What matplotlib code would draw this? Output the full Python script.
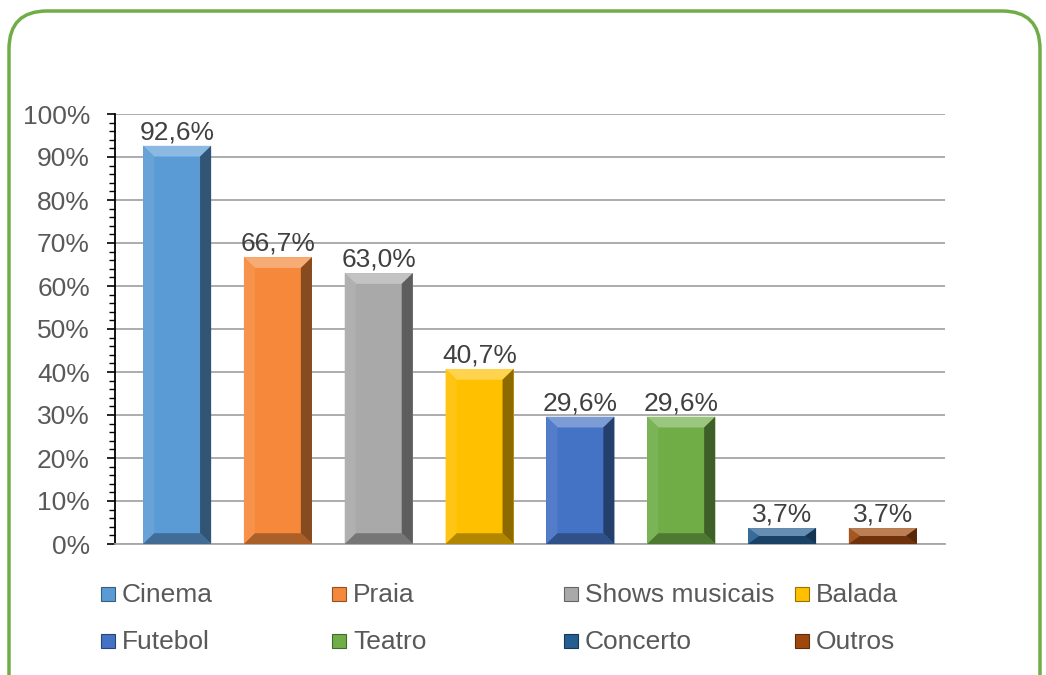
import numpy as np
import matplotlib
matplotlib.use('Agg')
import matplotlib.pyplot as plt
from matplotlib.patches import Polygon, Rectangle, FancyBboxPatch
from matplotlib.transforms import IdentityTransform
from matplotlib.colors import to_rgb
from matplotlib.ticker import MultipleLocator, FuncFormatter

plt.rcParams['font.family'] = ['Liberation Sans', 'DejaVu Sans']

categories = ['Cinema', 'Praia', 'Shows musicais', 'Balada',
              'Futebol', 'Teatro', 'Concerto', 'Outros']
values = [92.6, 66.7, 63.0, 40.7, 29.6, 29.6, 3.7, 3.7]
colors = ['#5B9BD5', '#F5883A', '#A9A9A9', '#FFC000',
          '#4472C4', '#70AD47', '#255E91', '#9E480E']


def shade(c, f):
    r = np.array(to_rgb(c))
    if f >= 0:
        return tuple(r + (1 - r) * f)
    return tuple(r * (1 + f))


fig = plt.figure(figsize=(10.46, 6.75), dpi=100)
ax = fig.add_axes([115 / 1046, 131 / 675, 830 / 1046, 430 / 675])

x = np.arange(len(categories))
width = 0.675
bars = ax.bar(x, values, width=width, color=colors, zorder=3)

# bevel look: lighter top, darker right/bottom edges
bx = 0.11
for b, c in zip(bars, colors):
    x0, x1 = b.get_x(), b.get_x() + b.get_width()
    y0, y1 = 0, b.get_height()
    by = min(2.5, (y1 - y0) / 2)
    faces = [
        ([(x0, y1), (x1, y1), (x1 - bx, y1 - by), (x0 + bx, y1 - by)], shade(c, 0.3)),
        ([(x0, y0), (x0, y1), (x0 + bx, y1 - by), (x0 + bx, y0 + by)], shade(c, 0.08)),
        ([(x1, y0), (x1, y1), (x1 - bx, y1 - by), (x1 - bx, y0 + by)], shade(c, -0.45)),
        ([(x0, y0), (x1, y0), (x1 - bx, y0 + by), (x0 + bx, y0 + by)], shade(c, -0.3)),
    ]
    for pts, fc in faces:
        ax.add_patch(Polygon(pts, closed=True, facecolor=fc, edgecolor='none', zorder=4))
    ax.annotate(f'{b.get_height():.1f}%'.replace('.', ','),
                (b.get_x() + b.get_width() / 2, y1), xytext=(0, 1),
                textcoords='offset points', ha='center', va='bottom',
                fontsize=19, color='#404040', zorder=5)

ax.set_xlim(-0.616, 7.616)
ax.set_ylim(0, 100)
ax.yaxis.set_major_locator(MultipleLocator(10))
ax.yaxis.set_minor_locator(MultipleLocator(2))
ax.yaxis.set_major_formatter(FuncFormatter(lambda v, p: f'{v:.0f}%'))
ax.set_xticks([])
ax.grid(axis='y', color='#A6A6A6', linewidth=1.3, zorder=0)
ax.tick_params(axis='y', which='major', length=6, width=1.2, pad=12,
               labelsize=19, labelcolor='#595959', color='black')
ax.tick_params(axis='y', which='minor', length=4, width=1.0, color='black')
for s in ['top', 'right']:
    ax.spines[s].set_visible(False)
ax.spines['left'].set_color('black')
ax.spines['left'].set_linewidth(1.3)
ax.spines['bottom'].set_color('#A6A6A6')
ax.spines['bottom'].set_linewidth(1.3)

# legend laid out like the original: 2 rows x 4 equal columns
col_x = [101, 332, 564, 795]
row_y = [594, 641]
for i, (name, c) in enumerate(zip(categories, colors)):
    px = col_x[i % 4]
    py = 675 - row_y[i // 4]
    fig.patches.append(Rectangle((px / 1046, (py - 7) / 675), 14 / 1046, 14 / 675,
                                 transform=fig.transFigure, facecolor=c,
                                 edgecolor=shade(c, -0.4), linewidth=0.8))
    fig.text((px + 21) / 1046, (py - 1) / 675, name, fontsize=19, color='#595959',
             va='center', ha='left')

border = FancyBboxPatch((9, -60), 1031, 724, boxstyle='round,pad=0,rounding_size=38',
                        transform=IdentityTransform(), facecolor='none',
                        edgecolor='#70AD47', linewidth=2.5)
fig.patches.append(border)

fig.savefig('out.png', dpi=100)
